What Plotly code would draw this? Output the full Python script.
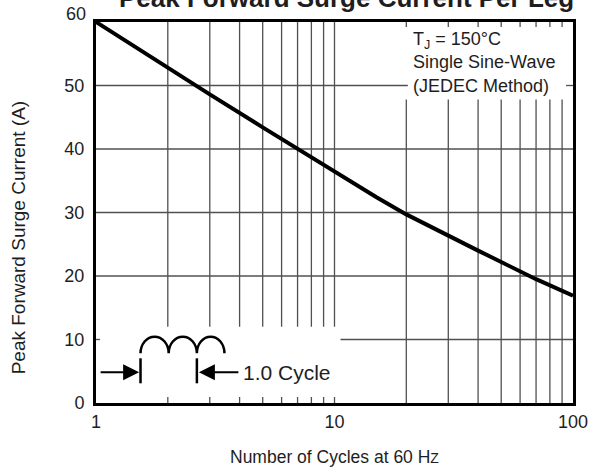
import plotly.graph_objects as go

# ---- data ----
cycles = [1, 2, 3, 5, 7, 10, 15, 20, 30, 40, 50, 70, 100]
current = [60, 52.7, 48.6, 43.4, 40.0, 36.4, 32.4, 29.7, 26.3, 24.0, 22.2, 19.5, 16.9]

x_tick_vals = [1, 10, 100]
x_tick_text = ["1", "10", "100"]
y_tick_vals = [0, 10, 20, 30, 40, 50, 60]
y_tick_text = ["0", "10", "20", "30", "40", "50", ""]

grid_x_left = [2, 3, 4, 5, 6, 7, 8, 9, 10]
grid_x_right = [20, 30, 40, 50, 60, 70, 80, 90]
grid_y_full = [20, 30, 40]

FONT = "Arial, Liberation Sans, sans-serif"
TXT = "#1e1e1e"
GRID = "#505050"

fig = go.Figure()
fig.add_trace(go.Scatter(x=cycles, y=current, mode="lines",
                         line=dict(color="black", width=4), hoverinfo="skip"))

shapes = []
def seg(x0, y0, x1, y1, w=1.3, c=GRID):
    shapes.append(dict(type="line", xref="x", yref="y",
                       x0=x0, x1=x1, y0=y0, y1=y1,
                       line=dict(color=c, width=w), layer="below"))

# vertical grid: left decade (upper part + bottom ticks)
for gx in grid_x_left:
    seg(gx, 12.0, gx, 60)
    seg(gx, 0, gx, 0.95)
# vertical grid: right decade (lower part + top ticks)
for gx in grid_x_right:
    seg(gx, 0, gx, 47.8)
    seg(gx, 59.2, gx, 60)
# horizontal grid
for gy in grid_y_full:
    seg(1, gy, 100, gy)
seg(1, 50, 20.3, 50)
seg(93.5, 50, 100, 50)
seg(1, 10, 1.04, 10)
seg(10.6, 10, 100, 10)

# waveform inset (paper coords, converted from plot-area pixels)
PL, PR, PT, PB = 96.0, 575.0, 22.0, 403.0
def px(x):
    return (x - PL) / (PR - PL)
def py(y):
    return (PB - y) / (PB - PT)

k = 0.5523
arc_edges = [140.7, 169.0, 197.3, 225.0]
base, top = 353.3, 336.7
path = ""
for i in range(3):
    x0, x1 = arc_edges[i], arc_edges[i + 1]
    xm = (x0 + x1) / 2
    w = (x1 - x0) / 2
    h = base - top
    path += (f"M{px(x0)},{py(base)} "
             f"C{px(x0)},{py(base - k*h)} {px(xm - k*w)},{py(top)} {px(xm)},{py(top)} "
             f"C{px(xm + k*w)},{py(top)} {px(x1)},{py(base - k*h)} {px(x1)},{py(base)} ")
shapes.append(dict(type="path", xref="paper", yref="paper", path=path,
                   line=dict(color="black", width=2.5)))
for bx in [140.7, 197.3]:
    shapes.append(dict(type="line", xref="paper", yref="paper",
                       x0=px(bx), x1=px(bx), y0=py(358.3), y1=py(383.3),
                       line=dict(color="black", width=2.5)))

annotations = [
    dict(text="<b>Peak Forward Surge Current Per Leg</b>", xref="paper", yref="paper",
         x=px(348), y=py(-2.0), xanchor="center", yanchor="middle", showarrow=False,
         font=dict(family=FONT, size=26, color=TXT)),
    dict(text="60", xref="paper", yref="paper", x=px(88), y=py(14),
         xanchor="right", yanchor="middle", showarrow=False,
         font=dict(family=FONT, size=18, color=TXT)),
    dict(text="Peak Forward Surge Current (A)", xref="paper", yref="paper",
         x=px(18), y=py(237), textangle=-90, xanchor="center", yanchor="middle",
         showarrow=False, font=dict(family=FONT, size=19, color=TXT)),
    dict(text="Number of Cycles at 60 H<span style='font-size:14px'>Z</span>",
         xref="paper", yref="paper",
         x=px(336), y=py(457), xanchor="center", yanchor="middle", showarrow=False,
         font=dict(family=FONT, size=17.5, color=TXT)),
    dict(text="T<sub>J</sub> = 150°C<br>Single Sine-Wave<br>(JEDEC Method)",
         xref="paper", yref="paper", x=px(412), y=py(27), xanchor="left", yanchor="top",
         align="left", showarrow=False, font=dict(family=FONT, size=18, color=TXT)),
    dict(text="1.0 Cycle", xref="paper", yref="paper", x=px(242), y=py(372.5),
         xanchor="left", yanchor="middle", showarrow=False,
         font=dict(family=FONT, size=21, color=TXT)),
    dict(text="", xref="paper", yref="paper", x=px(139.3), y=py(372.3),
         ax=-40, ay=0, showarrow=True, arrowhead=2, arrowsize=1.6, arrowwidth=2,
         arrowcolor="black"),
    dict(text="", xref="paper", yref="paper", x=px(199.3), y=py(372.3),
         ax=41, ay=0, showarrow=True, arrowhead=2, arrowsize=1.6, arrowwidth=2,
         arrowcolor="black"),
]

fig.update_layout(
    width=600, height=475,
    margin=dict(l=96, r=25, t=22, b=72),
    paper_bgcolor="white", plot_bgcolor="white",
    showlegend=False,
    shapes=shapes, annotations=annotations,
    xaxis=dict(type="log", range=[0, 2], showgrid=False, zeroline=False,
               showline=True, mirror=True, linecolor="black", linewidth=3,
               tickvals=x_tick_vals, ticktext=x_tick_text, ticks="",
               tickfont=dict(family=FONT, size=18, color=TXT)),
    yaxis=dict(range=[0, 60], showgrid=False, zeroline=False,
               showline=True, mirror=True, linecolor="black", linewidth=3,
               tickvals=y_tick_vals, ticktext=y_tick_text, ticks="",
               ticklabelstandoff=5,
               tickfont=dict(family=FONT, size=18, color=TXT)),
)

fig.write_html("out.html",
               config={"displayModeBar": False, "staticPlot": True},
               post_script="document.body.style.margin='0';document.body.style.padding='0';")
